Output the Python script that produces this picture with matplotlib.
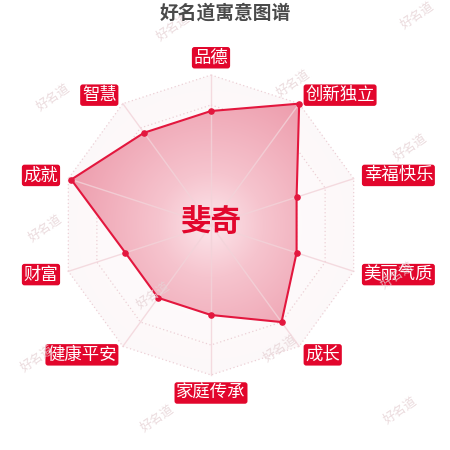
import numpy as np
import matplotlib
matplotlib.use("Agg")
import matplotlib.pyplot as plt
from matplotlib.patches import Polygon

plt.rcParams['font.family'] = ['Noto Sans CJK SC', 'DejaVu Sans']

title = "好名道寓意图谱"
name = "斐奇"
# clockwise from top
labels = ["品德", "创新独立", "幸福快乐", "美丽气质", "成长",
          "家庭传承", "健康平安", "财富", "成就", "智慧"]
values = [76, 100, 60, 60, 80, 60, 60, 60, 98, 76]
max_value = 100
levels = [20, 40, 60, 80, 100]

# watermark positions in pixels (x, y from top)
wm_x = [173, 417, 53, 293, 410, 45, 153, 397, 37, 280, 157, 400]
wm_y = [27, 15, 97, 83, 147, 228, 295, 275, 358, 348, 418, 410]

RED = "#e2062c"
LINE = "#e3173e"

fig = plt.figure(figsize=(4.5, 4.5), dpi=100)
ax = fig.add_axes([0, 0, 1, 1])
ax.set_xlim(-211 / 1.5, (450 - 211) / 1.5)
ax.set_ylim(-150, 150)
ax.set_aspect('equal')
ax.axis('off')

n = len(labels)
ang = np.arange(n) * 2 * np.pi / n
sx, cy = np.sin(ang), np.cos(ang)

# radial gradient image
g = np.linspace(-max_value, max_value, 400)
X, Y = np.meshgrid(g, g)
R = np.clip(np.hypot(X, Y) / max_value, 0, 1)
c0 = np.array([252, 230, 235]) / 255
c1 = np.array([246, 196, 206]) / 255
c2 = np.array([237, 156, 172]) / 255
t = R[..., None]
col = np.where(t < 0.35, c0 + (c1 - c0) * (t / 0.35), c1 + (c2 - c1) * ((t - 0.35) / 0.65))

# faint background of the grid area
outer = np.column_stack([max_value * sx, max_value * cy])
bg = Polygon(outer, closed=True, facecolor='none', edgecolor='none')
ax.add_patch(bg)
bg_img = np.dstack([np.ones_like(R) * 0.96, np.ones_like(R) * 0.86, np.ones_like(R) * 0.88,
                    0.05 + 0.15 * R])
im0 = ax.imshow(bg_img, extent=(-max_value, max_value, -max_value, max_value),
                origin='lower', zorder=1)
im0.set_clip_path(bg)

# grid polygons
for lv in levels:
    pts = np.column_stack([lv * sx, lv * cy])
    ax.add_patch(Polygon(pts, closed=True, fill=False, edgecolor='#ecd0d6',
                         linestyle=(0, (1, 2)), linewidth=0.9, zorder=2))

# data polygon
v = np.array(values)
pts = np.column_stack([v * sx, v * cy])
poly = Polygon(pts, closed=True, facecolor='none', edgecolor='none')
ax.add_patch(poly)
im = ax.imshow(np.dstack([col, np.ones_like(R)]),
               extent=(-max_value, max_value, -max_value, max_value),
               origin='lower', zorder=3)
im.set_clip_path(poly)

# spokes drawn over the fill, as in the reference
for i in range(n):
    ax.plot([0, max_value * sx[i]], [0, max_value * cy[i]], color='#f2d3d9',
            linewidth=1.0, alpha=0.8, zorder=3.5)

ax.add_patch(Polygon(pts, closed=True, fill=False, edgecolor=LINE,
                     linewidth=1.5, zorder=4))
ax.scatter(pts[:, 0], pts[:, 1], s=14, color=LINE, zorder=5)

# axis labels
lr = 107
for i, lab in enumerate(labels):
    x, y = lr * sx[i], lr * cy[i]
    if abs(sx[i]) < 1e-6:
        ha = 'center'
        va = 'bottom' if cy[i] > 0 else 'top'
        y += -1.5 if cy[i] > 0 else 1.0
    else:
        ha = 'left' if sx[i] > 0 else 'right'
        va = 'center'
    ax.text(x, y, lab, ha=ha, va=va, fontsize=12.5, color='white', zorder=6,
            bbox=dict(boxstyle='round,pad=0.1,rounding_size=0.15',
                      facecolor=RED, edgecolor='none'))

ax.text(0, 2, name, ha='center', va='center', fontsize=22, fontweight='bold',
        color=RED, zorder=6)

fig.text(225 / 450, 1 - 13 / 450, title, ha='center', va='center', fontsize=13.5,
         fontweight='bold', color='#4a4a4a')

for x, y in zip(wm_x, wm_y):
    fig.text(x / 450, 1 - y / 450, "好名道", ha='center', va='center', fontsize=9,
             rotation=35, color='#e6d2d5', alpha=0.8, zorder=0)

fig.savefig("out.png", dpi=100)
